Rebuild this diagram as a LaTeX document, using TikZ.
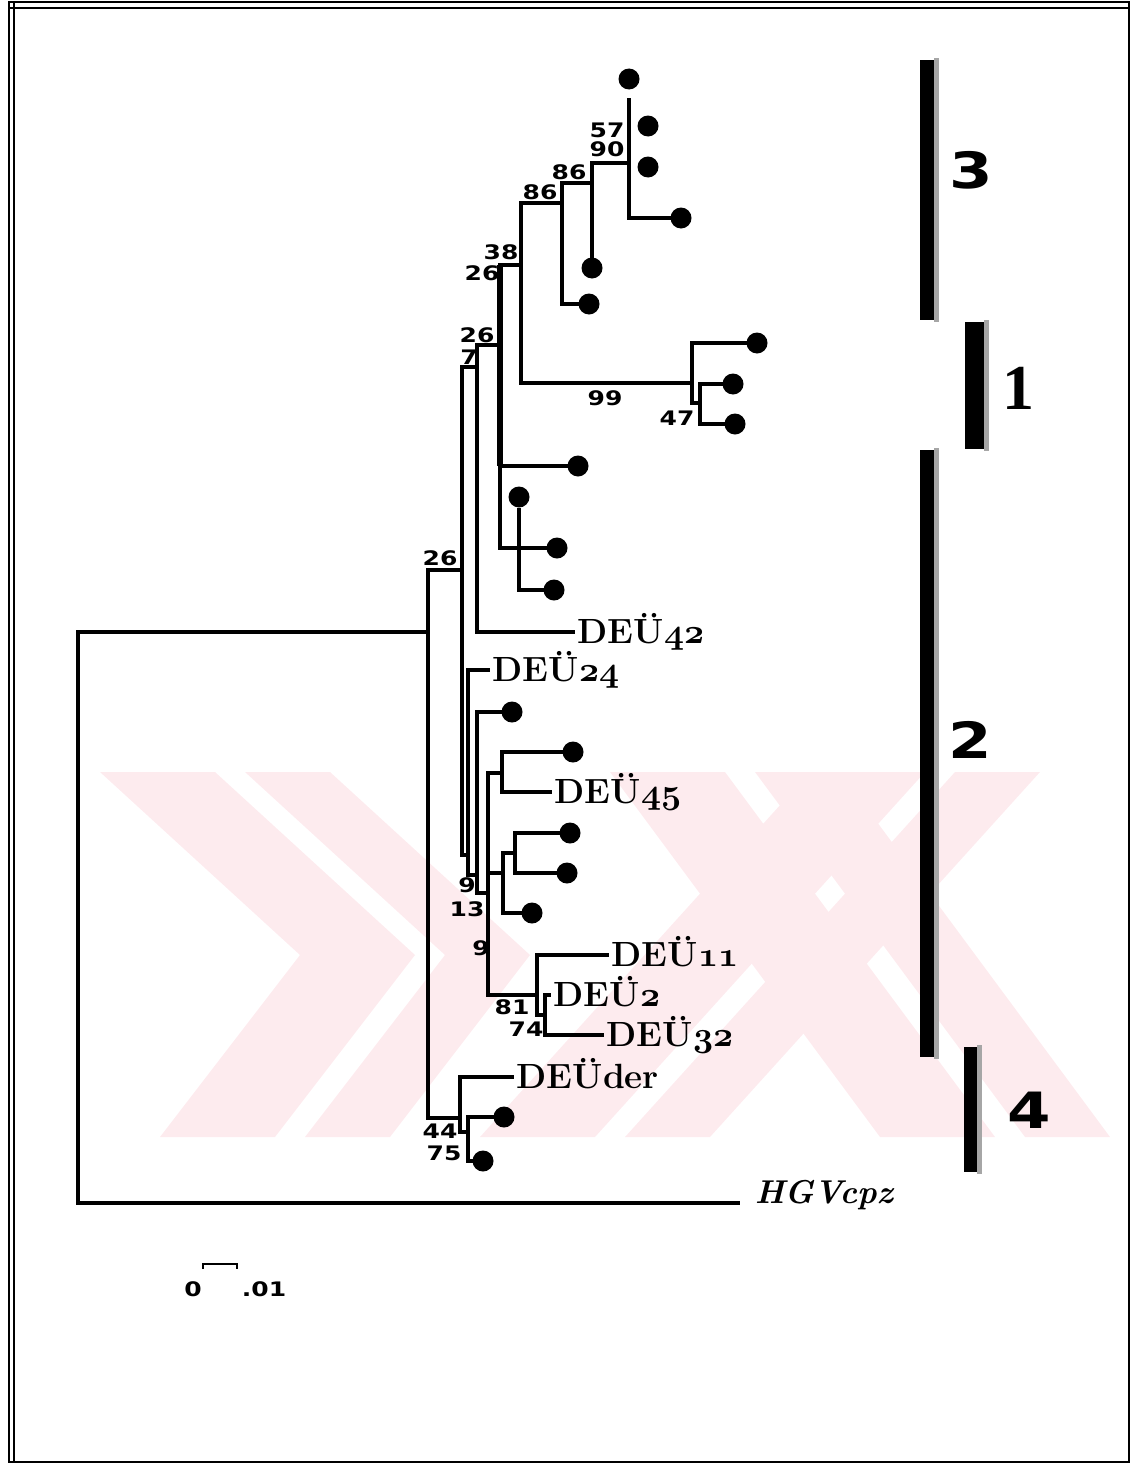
\documentclass[tikz,border=0pt]{standalone}
\usepackage{fix-cm}
\usepackage{fontspec}
\newfontfamily\blockfont{DejaVu Sans}[FakeStretch=1.25]
\newfontfamily\onefont{Liberation Serif}
\usepackage{tikz}
\usetikzlibrary{positioning}
\definecolor{wmpink}{RGB}{253,235,238}
\newcommand{\deu}[1]{DEÜ{\boldmath$\mathnormal{#1}$}}

\begin{document}
\begin{tikzpicture}[x=1pt, y=-1pt, line width=3.6pt, line cap=rect,
  dot/.style={circle, fill, inner sep=0pt, minimum size=21pt},
  boot/.style={inner sep=0pt, font=\blockfont\bfseries\fontsize{20}{20}\selectfont},
  deu/.style={anchor=base west, inner sep=0pt, xshift=3pt, yshift=-11pt, font=\fontsize{35}{35}\selectfont\bfseries},
  clus/.style={inner sep=0pt, font=\blockfont\bfseries\fontsize{50}{50}\selectfont},
  bar/.style={rectangle, inner sep=0pt, anchor=north west, minimum width=17pt, fill=black}]
  \useasboundingbox (0,0) rectangle (1131,1464);

  % Watermark
  \foreach \xa/\xb in {100/215, 245/330}
    \fill[wmpink] (\xa,772) -- (\xb,772) -- (\xb+200,955) -- (\xa+200,955) -- cycle;
  \foreach \xa/\xb in {160/275, 305/390}
    \fill[wmpink] (\xa,1137) -- (\xb,1137) -- (\xb+140,955) -- (\xa+140,955) -- cycle;
  \foreach \xa/\xb in {610/725, 755/840}
    \fill[wmpink] (\xa,772) -- (\xb,772) -- (\xb+270,1137) -- (\xa+270,1137) -- cycle;
  \foreach \xa/\xb in {810/925, 955/1040}
    \fill[wmpink] (\xa,772) -- (\xb,772) -- (\xb-330,1137) -- (\xa-330,1137) -- cycle;

  % Internal nodes
  \coordinate (nR) at (78,632);
  \coordinate (n26a) at (428,632);
  \coordinate (nL1) at (462,570);
  \coordinate (n7) at (477,367);
  \coordinate (n26b) at (500,345);
  \coordinate (n38) at (521,265);
  \coordinate (n86a) at (562,203);
  \coordinate (n86b) at (592,183);
  \coordinate (n90) at (629,163);
  \coordinate (nG1) at (692,383);
  \coordinate (n47) at (700,403);
  \coordinate (n3) at (519,548);
  \coordinate (nL2) at (468,855);
  \coordinate (nL3) at (477,875);
  \coordinate (nL4) at (488,893);
  \coordinate (n45) at (502,773);
  \coordinate (n13) at (503,873);
  \coordinate (n13b) at (515,853);
  \coordinate (n81) at (537,995);
  \coordinate (n74) at (545,1015);
  \coordinate (n44) at (460,1118);
  \coordinate (n75) at (468,1132);

  % Leaves
  \node[dot] (d1) at (629,79) {};
  \node[dot] (d2) at (648,126) {};
  \node[dot] (d3) at (648,167) {};
  \node[dot] (d4) at (681,218) {};
  \node[dot] (d5) at (592,268) {};
  \node[dot] (d6) at (589,304) {};
  \node[dot] (d7) at (757,343) {};
  \node[dot] (d8) at (733,384) {};
  \node[dot] (d9) at (735,424) {};
  \node[dot] (d10) at (578,466) {};
  \node[dot] (d11) at (519,497) {};
  \node[dot] (d12) at (557,548) {};
  \node[dot] (d13) at (554,590) {};
  \node[dot] (d14) at (512,712) {};
  \node[dot] (d15) at (573,752) {};
  \node[dot] (d16) at (570,833) {};
  \node[dot] (d17) at (567,873) {};
  \node[dot] (d18) at (532,913) {};
  \node[dot] (d19) at (504,1117) {};
  \node[dot] (d20) at (483,1161) {};
  \coordinate (l42) at (573,632);
  \coordinate (l24) at (488,670);
  \coordinate (l45) at (550,792);
  \coordinate (l11) at (607,955);
  \coordinate (l2) at (549,995);
  \coordinate (l32) at (602,1035);
  \coordinate (lder) at (512,1077);
  \coordinate (lhgv) at (738,1203);

  % Branches
  \draw (nR) -- (n26a);
  \draw (nR) |- (lhgv);
  \draw (n26a) |- (nL1);
  \draw (n26a) |- (n44);
  \draw (nL1) |- (n7);
  \draw (nL1) |- (nL2);
  \draw (n7) |- (n26b);
  \draw (n7) |- (l42);
  \draw (n26b) |- (n38);
  \draw (n26b) |- (d10);
  \draw (n26b) |- (d12);
  \draw[line width=5.5pt, line cap=butt] (n26b |- n38) -- (n26b |- d10);
  \draw (n3) -- (d11);
  \draw (n3) |- (d13);
  \draw (n38) |- (n86a);
  \draw (n38) |- (nG1);
  \draw (n86a) |- (n86b);
  \draw (n86a) |- (d6);
  \draw (n86b) |- (n90);
  \draw (n86b) -- (d5);
  \draw[shorten >=8pt] (n90) -- (d1);
  \draw (n90) |- (d4);
  \draw (nG1) |- (d7);
  \draw (nG1) |- (n47);
  \draw (n47) |- (d8);
  \draw (n47) |- (d9);
  \draw (nL2) |- (l24);
  \draw (nL2) |- (nL3);
  \draw (nL3) |- (d14);
  \draw (nL3) |- (nL4);
  \draw (nL4) |- (n45);
  \draw (nL4) |- (n13);
  \draw (nL4) |- (n81);
  \draw (n45) |- (d15);
  \draw (n45) |- (l45);
  \draw (n13) |- (n13b);
  \draw (n13) |- (d18);
  \draw (n13b) |- (d16);
  \draw (n13b) |- (d17);
  \draw (n81) |- (l11);
  \draw (n81) |- (n74);
  \draw (n74) |- (l2);
  \draw (n74) |- (l32);
  \draw (n44) |- (lder);
  \draw (n44) |- (n75);
  \draw (n75) |- (d19);
  \draw (n75) |- (d20);

  % Isolate names
  \node[deu] (t42) at (l42) {\deu{42}};
  \node[deu] (t24) at (l24) {\deu{24}};
  \node[deu] (t45) at (l45) {\deu{45}};
  \node[deu] (t11) at (l11) {\deu{11}};
  \node[deu] (t2) at (l2) {\deu{2}};
  \node[deu] (t32) at (l32) {\deu{32}};
  \node[deu] (tder) at (lder) {DEÜder};
  \node[deu, yshift=11pt, xshift=12pt, font=\fontsize{33}{33}\selectfont\bfseries\itshape] (thgv) at (lhgv) {HGVcpz};

  % Bootstrap values
  \node[boot] (b57) at (607,130) {57};
  \node[boot] (b90) at (607,149) {90};
  \node[boot] (b86a) at (569,172) {86};
  \node[boot] (b86b) at (540,192) {86};
  \node[boot] (b38) at (501,252) {38};
  \node[boot] (b26a) at (482,273) {26};
  \node[boot] (b99) at (605,398) {99};
  \node[boot] (b47) at (677,418) {47};
  \node[boot] (b26b) at (477,335) {26};
  \node[boot] (b7) at (469,357) {7};
  \node[boot] (b26c) at (440,558) {26};
  \node[boot] (b9a) at (467,885) {9};
  \node[boot] (b13) at (467,909) {13};
  \node[boot] (b9b) at (481,948) {9};
  \node[boot] (b81) at (512,1007) {81};
  \node[boot] (b74) at (526,1029) {74};
  \node[boot] (b44) at (440,1131) {44};
  \node[boot] (b75) at (444,1153) {75};

  % Genotype bars
  \node[bar, minimum height=260pt] (c3) at (918,58) {};
  \node[bar, minimum height=127pt, minimum width=22pt] (c1) at (963,320) {};
  \node[bar, minimum height=607pt] (c2) at (918,448) {};
  \node[bar, minimum height=125pt, minimum width=16pt] (c4) at (962,1045) {};
  \foreach \c in {c3,c1,c2,c4}
    \fill[gray!70] ([xshift=-5pt]\c.north east) rectangle (\c.south east);
  \node[clus] (g3) at (971,170) {3};
  \node[clus, font=\onefont\bfseries\fontsize{64}{64}\selectfont] (g1) at (1018,388) {1};
  \node[clus] (g2) at (970,740) {2};
  \node[clus] (g4) at (1029,1110) {4};

  % Scale
  \draw[line width=2.5pt] (203,1268) -- (203,1264) -- (237,1264) -- (237,1268);
  \node[boot] (s0) at (193,1289) {0};
  \node[boot] (s1) at (264,1289) {.01};

  % Frame
  \draw[line width=2pt] (9,2) rectangle (1129,1462);
  \draw[line width=1.5pt] (9,8) -- (1129,8);
  \draw[line width=1.5pt] (14,2) -- (14,1462);
\end{tikzpicture}
\end{document}
